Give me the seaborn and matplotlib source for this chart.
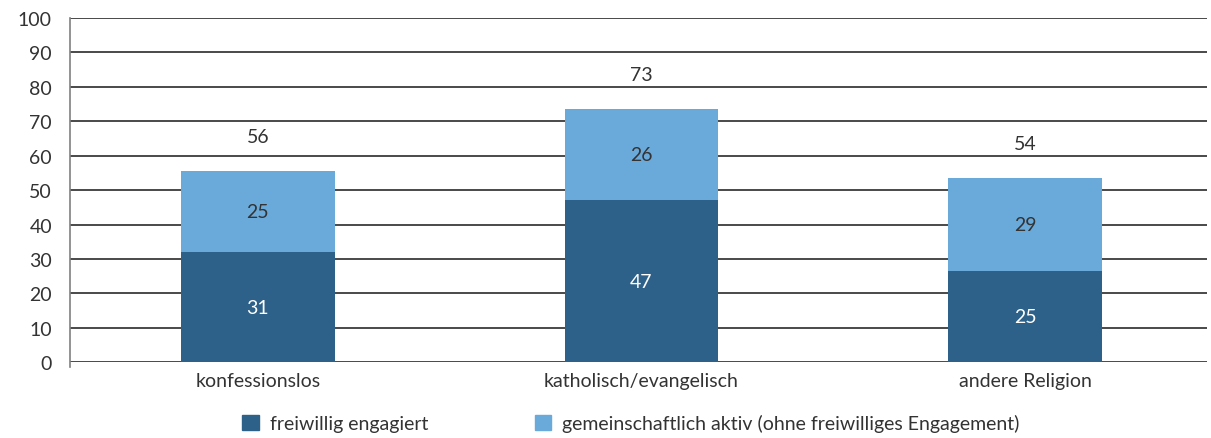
import matplotlib
matplotlib.use("Agg")
import matplotlib.pyplot as plt
import matplotlib.patches as mpatches
import seaborn as sns
import numpy as np

# values
categories = ["konfessionslos", "katholisch/evangelisch", "andere Religion"]
freiwillig = [32.1, 47.1, 26.5]
gemeinschaftlich = [23.5, 26.5, 27.0]
label_freiwillig = ["31", "47", "25"]
label_gemeinschaftlich = ["25", "26", "29"]
label_total = ["56", "73", "54"]
series_names = ["freiwillig engagiert",
                "gemeinschaftlich aktiv (ohne freiwilliges Engagement)"]

dark_c = "#2d6189"
light_c = "#6aaada"
text_c = "#333333"
fs = 14

sns.set_theme(style="white")
plt.rcParams["font.family"] = ["Lato", "DejaVu Sans"]

totals = [a + b for a, b in zip(freiwillig, gemeinschaftlich)]

fig = plt.figure(figsize=(12.11, 4.39), dpi=100)
ax = fig.add_axes([0.0578, 0.1724, 0.939, 0.7843])

sns.barplot(x=categories, y=totals, color=light_c, width=0.4,
            saturation=1, linewidth=0, ax=ax, zorder=3)
sns.barplot(x=categories, y=freiwillig, color=dark_c, width=0.4,
            saturation=1, linewidth=0, ax=ax, zorder=3)

for i in range(len(categories)):
    ax.text(i, freiwillig[i] / 2, label_freiwillig[i], ha="center", va="center",
            color="white", fontsize=fs, zorder=4)
    ax.text(i, freiwillig[i] + gemeinschaftlich[i] / 2, label_gemeinschaftlich[i],
            ha="center", va="center", color=text_c, fontsize=fs, zorder=4)
    ax.text(i, totals[i] + 10, label_total[i], ha="center", va="center",
            color=text_c, fontsize=fs, zorder=4)

ax.set_ylim(0, 100)
ax.set_xlim(-0.49, 2.475)
ax.set_yticks(np.arange(0, 101, 10))
ax.yaxis.grid(True, color="#3a3a3a", linewidth=1.3, zorder=0)
ax.set_axisbelow(True)
ax.tick_params(axis="y", labelsize=fs, labelcolor=text_c, length=0, pad=13)
ax.tick_params(axis="x", labelsize=fs, labelcolor=text_c, length=0, pad=7)
for s in ["top", "right", "bottom"]:
    ax.spines[s].set_visible(False)
ax.spines["left"].set_color("#808080")
ax.spines["left"].set_linewidth(1.2)
ax.spines["left"].set_bounds(-1.5, 100)
ax.set_xlabel("")
ax.set_ylabel("")

handles = [mpatches.Patch(color=dark_c, label=series_names[0]),
           mpatches.Patch(color=light_c, label=series_names[1])]
fig.legend(handles=handles, loc="center", bbox_to_anchor=(0.521, 0.034), ncol=2,
           frameon=False, fontsize=fs, handlelength=0.85, handleheight=0.85,
           handletextpad=0.55, columnspacing=5.5, labelcolor=text_c)

fig.savefig("out.png", dpi=100)
